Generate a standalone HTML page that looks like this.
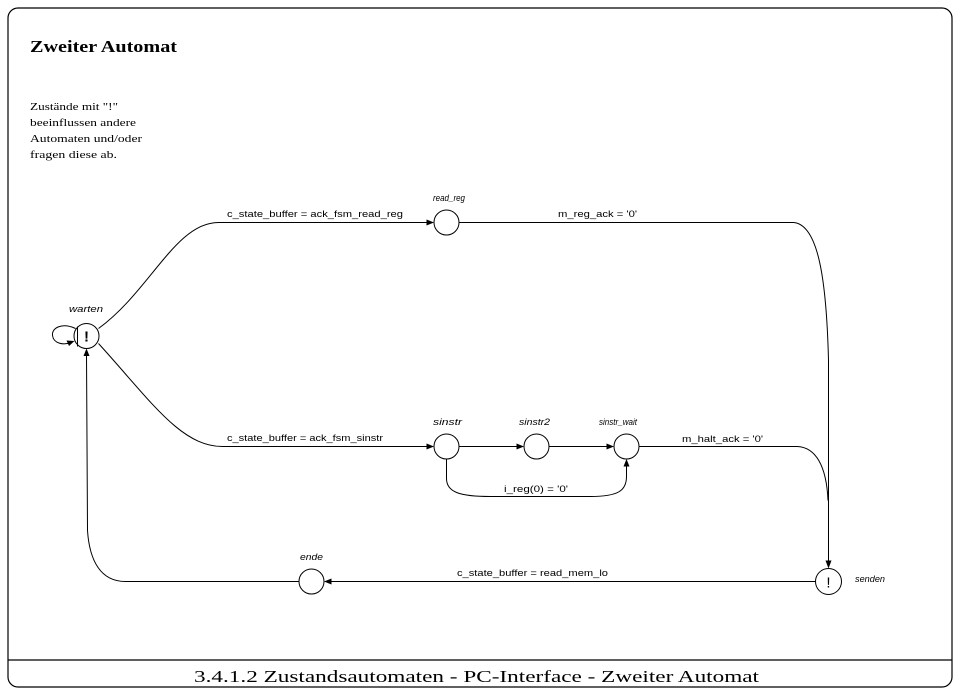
<!DOCTYPE html>
<html>
<head>
<meta charset="utf-8">
<style>
  html,body{margin:0;padding:0;background:#fff;}
  body{width:961px;height:696px;overflow:hidden;}
  svg{display:block;}
  .lbl{font-family:"Liberation Sans",sans-serif;font-size:9.5px;fill:#000;}
  .st{font-family:"Liberation Sans",sans-serif;font-size:9px;font-style:italic;fill:#000;}
  .ser{font-family:"Liberation Serif",serif;fill:#000;}
</style>
</head>
<body>
<svg width="961" height="696" viewBox="0 0 961 696" xmlns="http://www.w3.org/2000/svg">
  <!-- frame -->
  <rect x="8" y="8" width="944" height="679" rx="10" ry="10" fill="none" stroke="#000" stroke-width="1.2"/>
  <line x1="8" y1="660" x2="952" y2="660" stroke="#000" stroke-width="1.2"/>

  <!-- title -->
  <text class="ser" x="30" y="52" font-size="17" font-weight="bold" textLength="147" lengthAdjust="spacingAndGlyphs">Zweiter Automat</text>

  <!-- note -->
  <text class="ser" x="30" y="110" font-size="11" textLength="88" lengthAdjust="spacingAndGlyphs">Zustände mit "!"</text>
  <text class="ser" x="30" y="126" font-size="11" textLength="106" lengthAdjust="spacingAndGlyphs">beeinflussen andere</text>
  <text class="ser" x="30" y="142" font-size="11" textLength="112" lengthAdjust="spacingAndGlyphs">Automaten und/oder</text>
  <text class="ser" x="30" y="158" font-size="11" textLength="87" lengthAdjust="spacingAndGlyphs">fragen diese ab.</text>

  <!-- footer -->
  <text class="ser" x="194" y="682" font-size="16.5" textLength="565" lengthAdjust="spacingAndGlyphs">3.4.1.2 Zustandsautomaten - PC-Interface - Zweiter Automat</text>

  <g transform="translate(0.5,0.5)">
  <g fill="none" stroke="#000" stroke-width="1">
    <!-- states -->
    <circle cx="86" cy="335.5" r="12.5"/>
    <circle cx="446" cy="222" r="12.5"/>
    <circle cx="446" cy="446" r="12.5"/>
    <circle cx="536" cy="446" r="12.5"/>
    <circle cx="626" cy="446" r="12.5"/>
    <circle cx="311" cy="581" r="12.5"/>
    <circle cx="828" cy="581" r="13"/>

    <!-- warten inner chord -->
    <line x1="77" y1="326" x2="77" y2="346"/>
    <!-- self loop -->
    <path d="M75,328 C62,322 51,327 52,335 C53,343 63,345 70,342"/>

    <!-- warten -> read_reg -->
    <path d="M98,328 C150,290 175,222 218,222 L427,222"/>
    <!-- read_reg -> senden -->
    <path d="M458.5,222 L793,222 C818,224 826,280 828,360 L828,561"/>
    <!-- warten -> sinstr -->
    <path d="M98,343 C150,400 180,446 222,446 L427,446"/>
    <!-- sinstr -> sinstr2 -->
    <path d="M458.5,446 L517,446"/>
    <!-- sinstr2 -> sinstr_wait -->
    <path d="M548.5,446 L607,446"/>
    <!-- sinstr -> sinstr_wait (i_reg) -->
    <path d="M446,458.5 L446,478 C446,492 460,496 490,496 L590,496 C618,496 626,490 626,476 L626,465"/>
    <!-- sinstr_wait -> senden (merging) -->
    <path d="M638.5,446 L797,446 C815,447 826,465 827.5,500"/>
    <!-- senden -> ende -->
    <path d="M815,581 L330,581"/>
    <!-- ende -> warten -->
    <path d="M298.5,581 L125,581 C100,581 89,560 87,530 L86,354"/>
  </g>

  <!-- arrowheads -->
  <g fill="#000" stroke="none">
    <polygon points="433.5,222 426,219 426,225"/>
    <polygon points="433.5,446 426,443 426,449"/>
    <polygon points="523.5,446 516,443 516,449"/>
    <polygon points="613.5,446 606,443 606,449"/>
    <polygon points="626,458.5 623,466 629,466"/>
    <polygon points="828,568 825,560 831,560"/>
    <polygon points="323.5,581 331,578 331,584"/>
    <polygon points="86,348 83,355.5 89,355.5"/>
    <polygon points="74,340.5 66,340 68.5,345.5"/>
  </g>

  <!-- "!" marks -->
  <text x="86" y="341" text-anchor="middle" font-family="Liberation Sans, sans-serif" font-size="15" font-weight="bold">!</text>
  <text x="828" y="587" text-anchor="middle" font-family="Liberation Sans, sans-serif" font-size="15">!</text>
  </g>

  <!-- state names -->
  <text class="st" x="69" y="312" textLength="34" lengthAdjust="spacingAndGlyphs">warten</text>
  <text class="st" x="433" y="201" textLength="32" lengthAdjust="spacingAndGlyphs">read_reg</text>
  <text class="st" x="433" y="425" textLength="29" lengthAdjust="spacingAndGlyphs">sinstr</text>
  <text class="st" x="519" y="425" textLength="31" lengthAdjust="spacingAndGlyphs">sinstr2</text>
  <text class="st" x="599" y="425" textLength="38" lengthAdjust="spacingAndGlyphs">sinstr_wait</text>
  <text class="st" x="300" y="560" textLength="23" lengthAdjust="spacingAndGlyphs">ende</text>
  <text class="st" x="855" y="582" textLength="30" lengthAdjust="spacingAndGlyphs">senden</text>

  <!-- transition labels -->
  <text class="lbl" x="227" y="217" textLength="176" lengthAdjust="spacingAndGlyphs">c_state_buffer = ack_fsm_read_reg</text>
  <text class="lbl" x="558" y="217" textLength="79" lengthAdjust="spacingAndGlyphs">m_reg_ack = '0'</text>
  <text class="lbl" x="227" y="441" textLength="156" lengthAdjust="spacingAndGlyphs">c_state_buffer = ack_fsm_sinstr</text>
  <text class="lbl" x="682" y="442" textLength="81" lengthAdjust="spacingAndGlyphs">m_halt_ack = '0'</text>
  <text class="lbl" x="504" y="492" textLength="64" lengthAdjust="spacingAndGlyphs">i_reg(0) = '0'</text>
  <text class="lbl" x="457" y="576" textLength="151" lengthAdjust="spacingAndGlyphs">c_state_buffer = read_mem_lo</text>
</svg>
</body>
</html>
